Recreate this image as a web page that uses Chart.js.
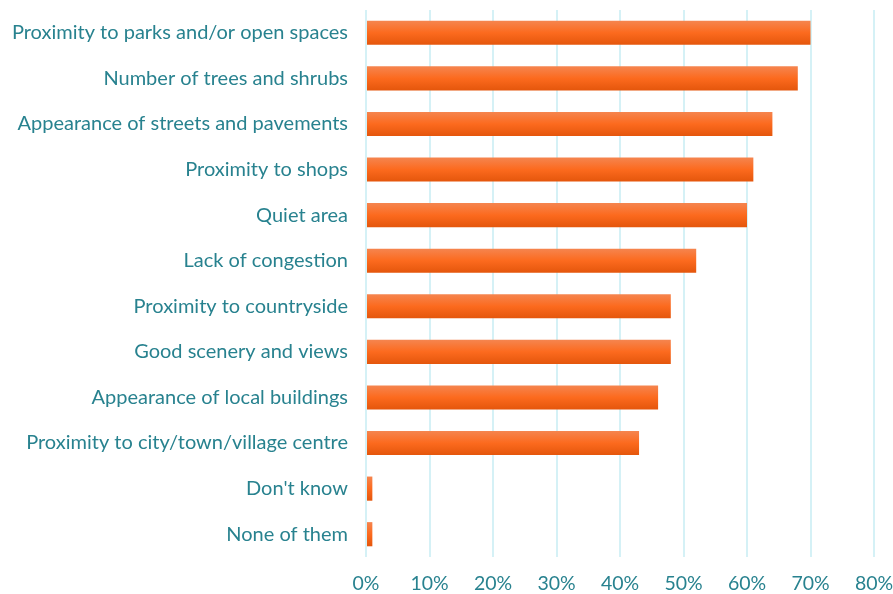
<!DOCTYPE html>
<html>
<head>
<meta charset="utf-8">
<script src="https://cdn.jsdelivr.net/npm/chart.js@4"></script>
<style>
  html, body { margin: 0; padding: 0; background: #fff; }
  #wrap { width: 893px; height: 594px; }
</style>
</head>
<body>
<div id="wrap"><canvas id="chart"></canvas></div>
<script>
// 項目（上から順）
const categories = [
  "Proximity to parks and/or open spaces",
  "Number of trees and shrubs",
  "Appearance of streets and pavements",
  "Proximity to shops",
  "Quiet area",
  "Lack of congestion",
  "Proximity to countryside",
  "Good scenery and views",
  "Appearance of local buildings",
  "Proximity to city/town/village centre",
  "Don't know",
  "None of them",
];
const values = [70, 68, 64, 61, 60, 52, 48, 48, 46, 43, 1, 1];
const xTicks = [0, 10, 20, 30, 40, 50, 60, 70, 80];

const TEXT_COLOR = "#28828f";
const GRID_COLOR = "#d5f1f6";
const BAR_PCT = 0.53;

// バーごとの縦グラデーション（y スケールから位置を求める）
function barFill(ctx) {
  const chart = ctx.chart;
  const y = chart.scales.y;
  if (!y || !isFinite(y.top) || y.bottom === y.top) return "#f26522";
  const center = y.getPixelForValue(ctx.dataIndex);
  const half = (y.bottom - y.top) / categories.length * BAR_PCT / 2;
  const g = chart.ctx.createLinearGradient(0, center - half, 0, center + half);
  g.addColorStop(0, "#f5854f");
  g.addColorStop(0.5, "#fc6a1e");
  g.addColorStop(1, "#e4560c");
  return g;
}

new Chart(document.getElementById("chart"), {
  type: "bar",
  data: {
    labels: categories,
    datasets: [{
      data: values,
      backgroundColor: barFill,
      borderWidth: 0,
      barPercentage: BAR_PCT,
      categoryPercentage: 1,
    }],
  },
  options: {
    indexAxis: "y",
    responsive: true,
    maintainAspectRatio: false,
    animation: false,
    layout: { padding: { top: 10, right: 19, left: 0, bottom: 0 } },
    plugins: {
      legend: { display: false },
      tooltip: { enabled: false },
    },
    scales: {
      x: {
        min: 0,
        max: 80,
        afterBuildTicks: (axis) => { axis.ticks = xTicks.map(v => ({ value: v })); },
        afterFit: (axis) => { axis.height = 37; axis.paddingLeft = 0; axis.paddingRight = 0; },
        ticks: {
          callback: (v) => v + "%",
          color: TEXT_COLOR,
          font: { family: "Lato", size: 19.5 },
          padding: 15,
          maxRotation: 0,
        },
        grid: { color: GRID_COLOR, lineWidth: 2, drawTicks: false },
        border: { display: false },
      },
      y: {
        afterFit: (axis) => { axis.width = 366; axis.paddingTop = 0; axis.paddingBottom = 0; },
        ticks: {
          color: TEXT_COLOR,
          font: { family: "Lato", size: 20 },
          padding: 18,
        },
        grid: { display: false, drawTicks: false },
        border: { display: false },
      },
    },
  },
});
</script>
</body>
</html>
